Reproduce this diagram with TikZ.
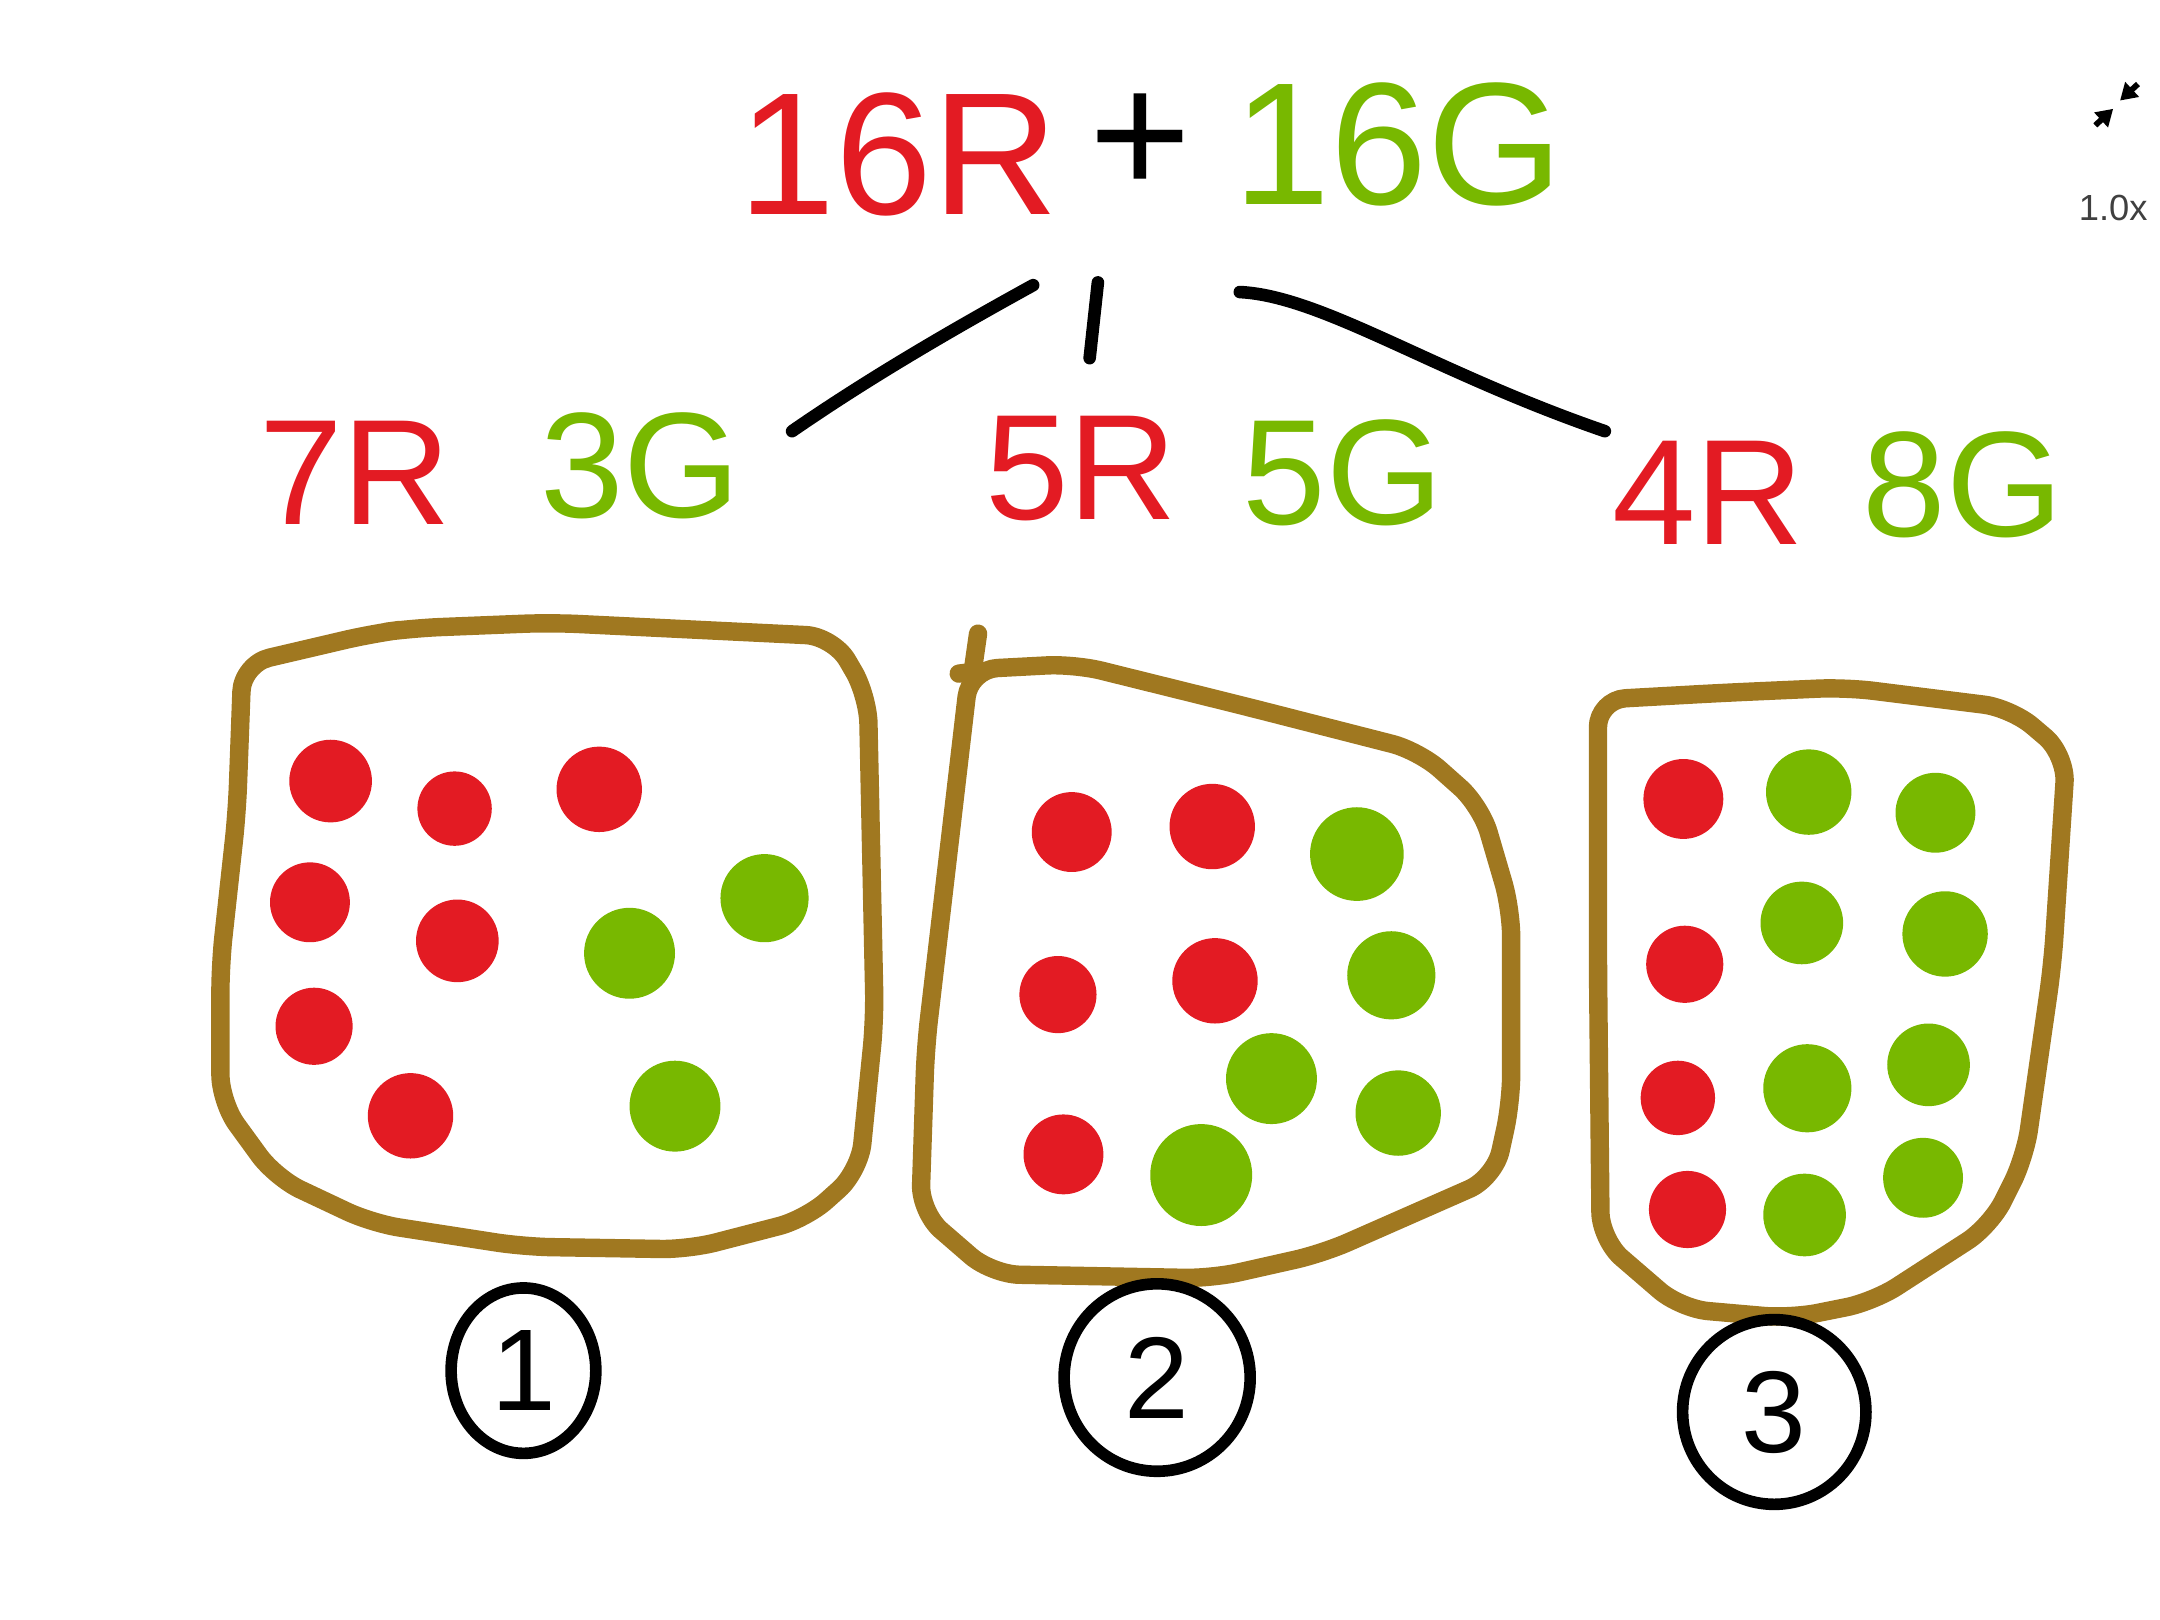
\documentclass[tikz,border=0pt]{standalone}
\usepackage{fontspec}
\setmainfont{Liberation Sans}
\usepackage{tikz}
\usetikzlibrary{arrows,arrows.meta,shapes.geometric}
\definecolor{penred}{HTML}{E31B23}
\definecolor{pengreen}{HTML}{78B800}
\definecolor{penbrown}{HTML}{A07820}

\begin{document}
\begin{tikzpicture}[
  x=0.01cm,y=-0.01cm,
  line cap=round,line join=round,
  bigtxt/.style={inner sep=0pt,font=\fontsize{36}{40}\selectfont},
  midtxt/.style={inner sep=0pt,font=\fontsize{31}{34}\selectfont},
  reds/.style={text=penred},
  greens/.style={text=pengreen},
  branch/.style={draw=black,line width=2.6pt},
  bag/.style={draw=penbrown,line width=3.8pt,rounded corners=0.2cm},
  numtag/.style={draw,ellipse,line width=2.4pt,inner sep=0pt,
                 font=\fontsize{24}{26}\selectfont},
  zoomtip/.style={-{Triangle[length=3.4pt,width=4pt]},line width=1.2pt,line cap=butt},
  every node/.style={align=center}]
  % page size
  \useasboundingbox (0,0) rectangle (1568,1176);

  % the whole bag on top
  \node[bigtxt,reds]   (allR)  at (652,112)  {16R};
  \node[bigtxt]        (plus)  at (828,105)  {+};
  \node[bigtxt,greens] (allG)  at (1015,105) {16G};

  % the three splits
  \node[midtxt,reds]   (redA)   at (258,343)  {7R};
  \node[midtxt,greens] (greenA) at (465,338)  {3G};
  \node[midtxt,reds]   (redB)   at (785,340)  {5R};
  \node[midtxt,greens] (greenB) at (975,343)  {5G};
  \node[midtxt,reds]   (redC)   at (1240,358) {4R};
  \node[midtxt,greens] (greenC) at (1425,352) {8G};

  % fork ends
  \coordinate (forkL) at (750,207);
  \coordinate (forkM) at (797,205);
  \coordinate (forkR) at (900,212);
  \coordinate (leafL) at (575,313);
  \coordinate (leafM) at (791,260);
  \coordinate (leafR) at (1165,313);

  \draw[branch] (forkL) .. controls (690,240) and (630,275) .. (leafL);
  \draw[branch] (forkM) -- (leafM);
  \draw[branch] (forkR) .. controls (960,215) and (1040,270) .. (leafR);

  % bags
  \draw[bag] (300,456) -- (400,452) -- (605,462) -- (630,505)
             -- (635,740) -- (624,850) -- (585,885) -- (500,907) -- (380,905)
             -- (270,888) -- (200,855) -- (160,800) -- (160,700) -- (172,590)
             -- (176,482) -- (270,460) -- cycle;
  \draw[bag] (905,513) -- (1030,545) -- (1075,585)
             -- (1097,660) -- (1097,800) -- (1085,855) -- (960,910)
             -- (880,928) -- (720,925) -- (668,880) -- (672,760)
             -- (704,486) -- (780,482) -- cycle;
  \draw[bag] (710,460) -- (705,495);
  \draw[bag] (696,489) -- (712,487);
  \draw[bag] (1250,503) -- (1340,499) -- (1460,514) -- (1500,548)
             -- (1490,700) -- (1470,840) -- (1445,890) -- (1360,945)
             -- (1300,957) -- (1220,950) -- (1162,900)
             -- (1160,700) -- (1160,508) -- cycle;

  % marbles
  \foreach \x/\y/\r in {240/567/30,330/587/27,435/573/31,225/655/29,
                        332/683/30,228/745/28,298/810/31,
                        778/604/29,880/600/31,768/722/28,882/712/31,772/838/29,
                        1222/580/29,1223/700/28,1218/797/27,1225/878/28}
    \fill[penred] (\x,\y) circle[radius=\r];
  \foreach \x/\y/\r in {555/652/32,457/692/33,490/803/33,
                        985/620/34,1010/708/32,923/783/33,1015/808/31,872/853/37,
                        1313/575/31,1405/590/29,1308/670/30,1412/678/31,
                        1312/790/32,1400/773/30,1310/882/30,1396/855/29}
    \fill[pengreen] (\x,\y) circle[radius=\r];

  % bag numbers
  \node[numtag,minimum width=1.05cm,minimum height=1.2cm]  (tagA) at (380,995)  {1};
  \node[numtag,minimum width=1.35cm,minimum height=1.36cm] (tagB) at (840,1000) {2};
  \node[numtag,minimum width=1.33cm,minimum height=1.34cm] (tagC) at (1288,1025) {3};

  % zoom widget
  \coordinate (zoomA) at (1552,61);
  \coordinate (zoomB) at (1539,73);
  \coordinate (zoomC) at (1521,91);
  \coordinate (zoomD) at (1534,79);
  \draw[zoomtip] (zoomA) -- (zoomB);
  \draw[zoomtip] (zoomC) -- (zoomD);
  \node[inner sep=0pt,text=black!75,font=\fontsize{7.5}{9}\selectfont]
      (zoomlvl) at (1534,151) {1.0x};
\end{tikzpicture}
\end{document}
